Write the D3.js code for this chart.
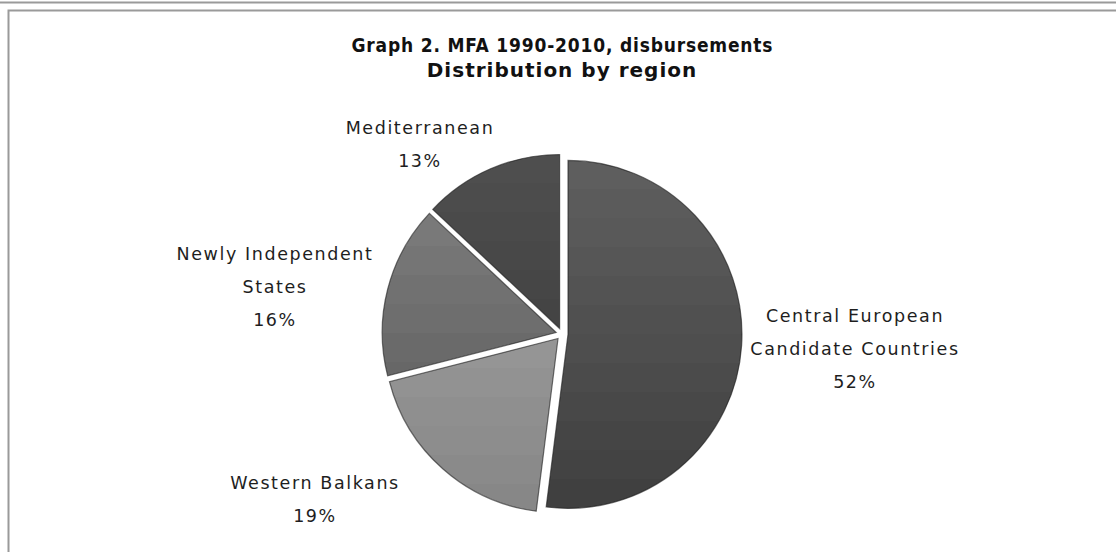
<!DOCTYPE html>
<html>
<head>
<meta charset="utf-8">
<script src="https://d3js.org/d3.v7.min.js"></script>
<style>
  body { margin: 0; background: #fff; }
  .title { font: bold 19px "DejaVu Sans Condensed", "DejaVu Sans", sans-serif; fill: #111; text-anchor: middle; }
  .title.wide { font: bold 20px "DejaVu Sans", sans-serif; letter-spacing: 1px; }
  .label { font: 17.5px "DejaVu Sans", sans-serif; fill: #1e1e1e; text-anchor: middle; letter-spacing: 1.6px; }
</style>
</head>
<body>
<svg id="chart" width="1116" height="552"></svg>
<script>
// data
var regions = ["Central European Candidate Countries", "Western Balkans", "Newly Independent States", "Mediterranean"];
var shares = [52, 19, 16, 13];
var labelLines = [["Central European", "Candidate Countries"], ["Western Balkans"], ["Newly Independent", "States"], ["Mediterranean"]];
var titleLines = ["Graph 2. MFA 1990-2010, disbursements", "Distribution by region"];

// shading per slice: top colour, bottom colour
var topShade = ["#5e5e5e", "#a6a6a6", "#808080", "#4e4e4e"];
var botShade = ["#404040", "#878787", "#585858", "#383838"];

var svg = d3.select("#chart"),
    cx = 562, cy = 334, r = 174, explode = 6;

// frame lines
svg.append("line").attr("x1", 0).attr("x2", 1116).attr("y1", 2.5).attr("y2", 2.5)
   .attr("stroke", "#9a9a9a").attr("stroke-width", 2);
svg.append("rect").attr("x", 8.5).attr("y", 10.5).attr("width", 1120).attr("height", 560)
   .attr("fill", "#fff").attr("stroke", "#9a9a9a").attr("stroke-width", 2);

// title
svg.append("text").attr("class", "title")
   .attr("x", cx).attr("y", 52)
   .attr("textLength", 421).attr("lengthAdjust", "spacing")
   .text(titleLines[0]);
svg.append("text").attr("class", "title wide")
   .attr("x", cx).attr("y", 77)
   .text(titleLines[1]);

// banded vertical gradients (in each slice's own translated space)
var defs = svg.append("defs");
var bands = 12;
shares.forEach(function(s, k) {
  var grad = defs.append("linearGradient")
      .attr("id", "g" + k)
      .attr("gradientUnits", "userSpaceOnUse")
      .attr("x1", 0).attr("x2", 0)
      .attr("y1", -r).attr("y2", r);
  var col = d3.interpolateRgb(topShade[k], botShade[k]);
  for (var b = 0; b < bands; b++) {
    var c = col(b / (bands - 1));
    grad.append("stop").attr("offset", b / bands).attr("stop-color", c);
    grad.append("stop").attr("offset", (b + 1) / bands).attr("stop-color", c);
  }
});

var pie = d3.pie().sort(null).value(function(d) { return d; });
var arc = d3.arc().innerRadius(0).outerRadius(r);
var slices = pie(shares);

var g = svg.append("g");
g.selectAll("path").data(slices).enter().append("path")
  .attr("transform", function(d) {
    var a = (d.startAngle + d.endAngle) / 2;
    return "translate(" + (cx + explode * Math.sin(a)) + "," + (cy - explode * Math.cos(a)) + ")";
  })
  .attr("d", arc)
  .attr("fill", function(d, i) { return "url(#g" + i + ")"; })
  .attr("stroke", "#1a1a1a")
  .attr("stroke-opacity", 0.6)
  .attr("stroke-width", 1.2);

// labels: block centre offsets from the pie centre
var labelAt = [[293, 15], [-247, 165], [-287, -47], [-142, -190]];
var lineGap = 33;
slices.forEach(function(d, i) {
  var lines = labelLines[i].concat([d3.format(".0f")(shares[i]) + "%"]);
  var x = cx + labelAt[i][0];
  var y0 = cy + labelAt[i][1] - (lines.length - 1) * lineGap / 2 + 6;
  svg.selectAll(null).data(lines).enter().append("text")
    .attr("class", "label")
    .attr("x", x)
    .attr("y", function(t, j) { return y0 + j * lineGap; })
    .text(function(t) { return t; });
});
</script>
</body>
</html>
